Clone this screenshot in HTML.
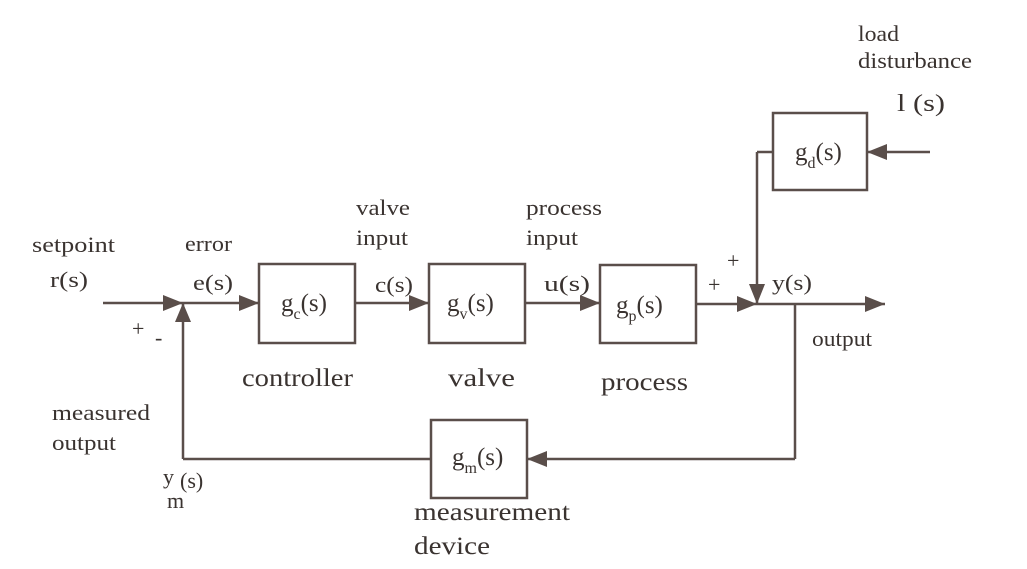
<!DOCTYPE html>
<html><head><meta charset="utf-8"><style>
html,body{margin:0;padding:0;background:#fff;}
svg{display:block;}
text{font-family:"Liberation Serif",serif;fill:#3a3330;}
</style></head><body>
<svg width="1027" height="569" viewBox="0 0 1027 569" xmlns="http://www.w3.org/2000/svg">
<g stroke="#5a4e4a" stroke-width="2.5" fill="none">
<rect x="259" y="264" width="96" height="79"/>
<rect x="429" y="264" width="96" height="79"/>
<rect x="600" y="265" width="96" height="78"/>
<rect x="773" y="113" width="94" height="77"/>
<rect x="431" y="420" width="96" height="78"/>
<line x1="103" y1="303" x2="259" y2="303"/>
<line x1="355" y1="303" x2="429" y2="303"/>
<line x1="525" y1="303" x2="600" y2="303"/>
<line x1="696" y1="304" x2="885" y2="304"/>
<line x1="795" y1="304" x2="795" y2="459"/>
<line x1="795" y1="459" x2="527" y2="459"/>
<line x1="431" y1="459" x2="183" y2="459"/>
<line x1="183" y1="459" x2="183" y2="303"/>
<line x1="930" y1="152" x2="867" y2="152"/>
<line x1="773" y1="152" x2="757" y2="152"/>
<line x1="757" y1="152" x2="757" y2="304"/>
</g>
<g fill="#5a4e4a">
<polygon points="183,303 163,295 163,311"/>
<polygon points="183,303 175,322 191,322"/>
<polygon points="259,303 239,295 239,311"/>
<polygon points="429,303 409,295 409,311"/>
<polygon points="600,303 580,295 580,311"/>
<polygon points="757,304 737,296 737,312"/>
<polygon points="757,304 749,284 765,284"/>
<polygon points="885,304 865,296 865,312"/>
<polygon points="527,459 547,451 547,467"/>
<polygon points="867,152 887,144 887,160"/>
</g>
<g font-size="22">
<text x="32" y="252" textLength="83" lengthAdjust="spacingAndGlyphs">setpoint</text>
<text x="50" y="287" textLength="38" lengthAdjust="spacingAndGlyphs">r(s)</text>
<text x="185" y="251" textLength="47" lengthAdjust="spacingAndGlyphs">error</text>
<text x="193" y="290" textLength="40" lengthAdjust="spacingAndGlyphs">e(s)</text>
<text x="356" y="215" textLength="54" lengthAdjust="spacingAndGlyphs">valve</text>
<text x="356" y="245" textLength="52" lengthAdjust="spacingAndGlyphs">input</text>
<text x="375" y="292" textLength="38" lengthAdjust="spacingAndGlyphs">c(s)</text>
<text x="526" y="215" textLength="76" lengthAdjust="spacingAndGlyphs">process</text>
<text x="526" y="245" textLength="52" lengthAdjust="spacingAndGlyphs">input</text>
<text x="544" y="291" textLength="46" lengthAdjust="spacingAndGlyphs">u(s)</text>
<text x="708" y="292">+</text>
<text x="727" y="268">+</text>
<text x="772" y="290" textLength="40" lengthAdjust="spacingAndGlyphs">y(s)</text>
<text x="812" y="346" textLength="60" lengthAdjust="spacingAndGlyphs">output</text>
<text x="858" y="41" textLength="41" lengthAdjust="spacingAndGlyphs">load</text>
<text x="858" y="68" textLength="114" lengthAdjust="spacingAndGlyphs">disturbance</text>
<text x="897" y="111" font-size="24" textLength="48" lengthAdjust="spacingAndGlyphs">l (s)</text>
<text x="132" y="336">+</text>
<text x="155" y="345">-</text>
<text x="52" y="420" textLength="98" lengthAdjust="spacingAndGlyphs">measured</text>
<text x="52" y="450" textLength="64" lengthAdjust="spacingAndGlyphs">output</text>
<text x="163" y="484">y</text>
<text x="180" y="488">(s)</text>
<text x="167" y="508">m</text>
<text x="414" y="520" font-size="25" textLength="156" lengthAdjust="spacingAndGlyphs">measurement</text>
<text x="414" y="554" font-size="25" textLength="76" lengthAdjust="spacingAndGlyphs">device</text>
</g>
<g font-size="25">
<text x="242" y="386" textLength="111" lengthAdjust="spacingAndGlyphs">controller</text>
<text x="448" y="386" textLength="67" lengthAdjust="spacingAndGlyphs">valve</text>
<text x="601" y="390" textLength="87" lengthAdjust="spacingAndGlyphs">process</text>
<text x="281" y="311">g<tspan font-size="16" dy="8">c</tspan><tspan dy="-8">(s)</tspan></text>
<text x="447" y="311">g<tspan font-size="16" dy="8">v</tspan><tspan dy="-8">(s)</tspan></text>
<text x="616" y="313">g<tspan font-size="16" dy="8">p</tspan><tspan dy="-8">(s)</tspan></text>
<text x="795" y="160">g<tspan font-size="16" dy="8">d</tspan><tspan dy="-8">(s)</tspan></text>
<text x="452" y="465">g<tspan font-size="16" dy="8">m</tspan><tspan dy="-8">(s)</tspan></text>
</g>
</svg>
</body></html>
